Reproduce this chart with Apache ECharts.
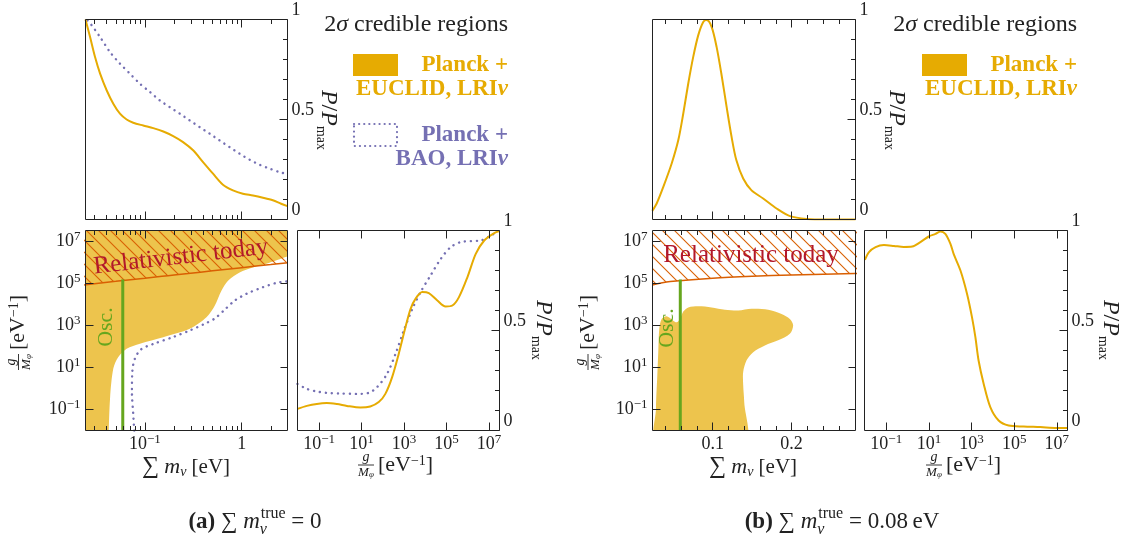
<!DOCTYPE html>
<html lang="en">
<head>
<meta charset="UTF-8">
<title>LRI nu credible regions</title>
<style>
  html, body { margin: 0; padding: 0; background: #ffffff; }
  #chart { width: 1128px; height: 552px; }
</style>
</head>
<body>
<div id="chart"></div>
<script src="https://cdn.jsdelivr.net/npm/echarts@6.0.0/dist/echarts.min.js"></script>
<script>
// values
// masses in eV, couplings as log10(g/M_phi / eV^-1), posteriors as P/P_max

// ---- panel (a): sum m_nu^true = 0 ----
var aTopMass = [0.0243, 0.0271, 0.0305, 0.0344, 0.0403, 0.0471, 0.0552, 0.0647, 0.0757, 0.0959, 0.122, 0.155, 0.196, 0.248, 0.315, 0.399, 0.506, 0.641, 0.813, 1.03, 1.31, 1.66, 2.10, 2.56, 2.98];
var aTopEuclid = [1.0, 0.912, 0.812, 0.729, 0.645, 0.579, 0.529, 0.5, 0.484, 0.47, 0.457, 0.44, 0.417, 0.387, 0.346, 0.287, 0.229, 0.174, 0.146, 0.129, 0.12, 0.109, 0.096, 0.079, 0.067];
var aTopBaoMass = [0.0255, 0.0271, 0.0344, 0.0436, 0.0552, 0.070, 0.0887, 0.113, 0.143, 0.181, 0.230, 0.291, 0.369, 0.468, 0.593, 0.752, 0.953, 1.21, 1.53, 1.95, 2.47, 2.98];
var aTopBao = [0.995, 0.982, 0.912, 0.837, 0.779, 0.729, 0.679, 0.637, 0.595, 0.562, 0.529, 0.495, 0.462, 0.429, 0.395, 0.362, 0.329, 0.299, 0.274, 0.254, 0.237, 0.227];

var aSideG = [-2.02, -1.58, -1.11, -0.64, -0.16, 0.31, 0.94, 1.41, 1.81, 2.12, 2.44, 2.75, 3.07, 3.31, 3.54, 3.86, 4.17, 4.57, 4.96, 5.28, 5.59, 5.99, 6.38, 6.78, 7.25, 7.5];
var aSideEuclid = [0.108, 0.123, 0.133, 0.137, 0.132, 0.123, 0.115, 0.12, 0.142, 0.183, 0.267, 0.383, 0.517, 0.608, 0.658, 0.692, 0.687, 0.65, 0.62, 0.625, 0.667, 0.767, 0.883, 0.95, 0.987, 0.997];
var aSideBaoG = [-2.02, -1.58, -1.11, -0.64, -0.01, 0.78, 1.33, 1.73, 2.20, 2.60, 2.99, 3.39, 3.78, 4.25, 4.73, 5.20, 5.67, 6.15, 6.62, 7.09, 7.45];
var aSideBao = [0.233, 0.208, 0.195, 0.188, 0.185, 0.183, 0.188, 0.217, 0.283, 0.383, 0.5, 0.608, 0.692, 0.775, 0.858, 0.917, 0.942, 0.947, 0.95, 0.975, 0.995];

// lower-right edge of the EUCLID region (region fills everything above/left of it)
var aRegionMass = [0.0419, 0.0436, 0.0471, 0.0531, 0.0647, 0.0888, 0.1545, 0.291, 0.433, 0.527, 0.618, 0.723, 0.953, 1.306, 1.94, 2.47, 2.98];
var aRegionG = [-2.6, -0.48, 0.93, 1.48, 1.87, 2.11, 2.42, 2.82, 3.37, 3.92, 4.63, 5.11, 5.50, 5.74, 5.97, 6.13, 6.26];
var aBaoEdgeMass = [0.0789, 0.0757, 0.0734, 0.0743, 0.0789, 0.091, 0.122, 0.196, 0.291, 0.416, 0.527, 0.668, 0.847, 1.127, 1.64, 2.30, 2.98];
var aBaoEdgeG = [-2.6, -1.24, -0.2, 0.85, 1.41, 1.84, 2.10, 2.43, 2.74, 3.06, 3.31, 3.73, 4.16, 4.49, 4.79, 5.01, 5.08];

// ---- panel (b): sum m_nu^true = 0.08 eV ----
var bTopMass = [0.0235, 0.0291, 0.0375, 0.0481, 0.0565, 0.0628, 0.0691, 0.0754, 0.0818, 0.0881, 0.0924, 0.0987, 0.105, 0.111, 0.1177, 0.124, 0.130, 0.1387, 0.149, 0.164, 0.181, 0.198, 0.219, 0.244, 0.281];
var bTopEuclid = [0.043, 0.08, 0.163, 0.28, 0.397, 0.53, 0.68, 0.813, 0.922, 0.988, 0.997, 0.963, 0.863, 0.73, 0.563, 0.413, 0.297, 0.205, 0.147, 0.105, 0.055, 0.017, 0.003, 0.0, 0.0];

var bSideG = [-2.0, -1.81, -1.50, -1.11, -0.64, -0.18, 0.22, 0.60, 0.99, 1.31, 1.54, 1.77, 2.01, 2.16, 2.48, 2.79, 3.02, 3.18, 3.33, 3.57, 3.88, 4.27, 4.74, 5.44, 6.22, 7.0, 7.5];
var bSideEuclid = [0.853, 0.892, 0.917, 0.927, 0.923, 0.918, 0.92, 0.942, 0.97, 0.983, 0.995, 0.983, 0.933, 0.883, 0.8, 0.683, 0.567, 0.467, 0.35, 0.233, 0.117, 0.05, 0.025, 0.02, 0.017, 0.013, 0.013];

// closed outline of the EUCLID region
var bRegionMass = [0.0291, 0.0282, 0.0299, 0.0311, 0.0324, 0.0354, 0.0418, 0.0501, 0.0544, 0.0586, 0.0628, 0.0691, 0.0818, 0.0987, 0.1156, 0.1324, 0.1494, 0.1704, 0.1873, 0.1978, 0.2020, 0.1978, 0.183, 0.1662, 0.1514, 0.143, 0.1387, 0.1387, 0.140, 0.1409];
var bRegionG = [-2.6, -0.97, 0.61, 1.71, 2.82, 3.29, 3.42, 3.21, 3.13, 3.29, 3.64, 3.84, 3.89, 3.84, 3.73, 3.69, 3.77, 3.73, 3.53, 3.29, 2.98, 2.58, 2.27, 2.03, 1.71, 1.32, 0.77, 0.14, -0.65, -2.6];

// ---- shared ----
// "relativistic today" boundary
var relMass = [0.0235, 0.03, 0.05, 0.1, 0.15, 0.2, 0.28, 0.5, 1, 2, 3];
var relG = [4.91, 4.97, 5.08, 5.23, 5.32, 5.38, 5.45, 5.58, 5.73, 5.88, 5.97];
// oscillation lower bound
var oscMass = 0.059;
var oscTopG = 5.17;

// axes
var aMassRange = [0.0243, 2.98];
var bMassRange = [0.0238, 0.281];
var gRange = [-2.02, 7.5];
var aMassMajor = [0.1, 1];
var aMassMinor = [0.03, 0.04, 0.05, 0.06, 0.07, 0.08, 0.09, 0.2, 0.3, 0.4, 0.5, 0.6, 0.7, 0.8, 0.9, 2];
var bMassMajor = [0.1, 0.2];
var bMassMinor = [0.04, 0.06, 0.08, 0.12, 0.14, 0.16, 0.18, 0.22, 0.24, 0.26];
var gMajor = [-1, 1, 3, 5, 7];
var pMajor = [0, 0.5, 1];
var pMinor = [0.1, 0.2, 0.3, 0.4, 0.6, 0.7, 0.8, 0.9];

var FONT = 'Liberation Serif';
var INK = '#222222';
var ORANGE = '#e6ab02', PURPLE = '#7570b3', GREEN = '#66a61e', HATCH = '#d95f02', RED = '#b2182b';
var FILL = 'rgba(230,171,2,0.7)';

function lg(v) { return Math.log10(v); }
function lin(v) { return v; }
function zip(xs, ys, fx) { return xs.map(function (x, i) { return [fx(x), ys[i]]; }); }

// hatch tile, "\" lines
function hatchTile() {
  var s = 12, c = document.createElement('canvas');
  c.width = s; c.height = s;
  var ctx = c.getContext('2d');
  ctx.strokeStyle = HATCH;
  ctx.lineWidth = 1.1;
  [-s, 0, s].forEach(function (o) {
    ctx.beginPath(); ctx.moveTo(o - 2, -2); ctx.lineTo(o + s + 2, s + 2); ctx.stroke();
  });
  return c;
}
var hatch = { image: hatchTile(), repeat: 'repeat' };

// ---- grids & axes ----
var boxes = {
  aTop: [85.5, 19.5, 202, 200], aMain: [85.5, 230.5, 202, 200], aSide: [297.5, 230.5, 202, 200],
  bTop: [652.5, 19.5, 203, 200], bMain: [652.5, 230.5, 203, 200], bSide: [864.5, 230.5, 203, 200]
};
var grids = [], xAxes = [], yAxes = [];
function grid(b) {
  grids.push({ left: b[0], top: b[1], width: b[2], height: b[3], containLabel: false, outerBoundsMode: 'none' });
  return grids.length - 1;
}
function axis(list, gi, pos, range, ticks, len, label) {
  list.push({
    type: 'value', gridIndex: gi, position: pos, min: range[0], max: range[1], z: 10,
    axisLine: { show: false, onZero: false },
    splitLine: { show: false },
    axisTick: { show: ticks.length > 0, inside: true, length: len, customValues: ticks, lineStyle: { color: INK, width: 1 } },
    axisLabel: label || { show: false }
  });
  return list.length - 1;
}
var supRich = { sup: { fontFamily: FONT, fontSize: 13, lineHeight: 10, verticalAlign: 'top', color: INK } };
function expText(v) {
  var e = Math.round(v);
  return e === 0 ? '1' : '10{sup|' + (e < 0 ? '\u2212' + (-e) : e) + '}';
}
function tickLabel(values, fmt, extra) {
  return Object.assign({ show: true, customValues: values, formatter: fmt, fontFamily: FONT, fontSize: 18,
    color: INK, lineHeight: 22, rich: supRich }, extra);
}
var pLabel = { show: true, customValues: pMajor, formatter: function (v) { return v === 0.5 ? '0.5' : String(v); },
  fontFamily: FONT, fontSize: 18, color: INK, lineHeight: 18, verticalAlign: 'bottom', margin: 4 };

function massAxes(gi, range, fx, major, minor, label) {
  var r = [fx(range[0]), fx(range[1])];
  var M = major.map(fx), m = minor.map(fx);
  var main = axis(xAxes, gi, 'bottom', r, M, 8, label ? tickLabel(M, label, { margin: 3 }) : null);
  axis(xAxes, gi, 'bottom', r, m, 4.5);
  axis(xAxes, gi, 'top', r, M, 8);
  axis(xAxes, gi, 'top', r, m, 4.5);
  return main;
}
function pAxes(gi) {
  var main = axis(yAxes, gi, 'right', [0, 1], pMajor, 8, pLabel);
  axis(yAxes, gi, 'right', [0, 1], pMinor, 4.5);
  return main;
}
function gAxesY(gi) {
  var main = axis(yAxes, gi, 'left', gRange, gMajor, 8, tickLabel(gMajor, expText, { margin: 5 }));
  axis(yAxes, gi, 'right', gRange, gMajor, 7);
  return main;
}
function gAxesX(gi) {
  var main = axis(xAxes, gi, 'bottom', gRange, gMajor, 8, tickLabel(gMajor, expText, { margin: 3 }));
  axis(xAxes, gi, 'top', gRange, gMajor, 8);
  return main;
}

var G = {};
G.aTop = grid(boxes.aTop); G.aMain = grid(boxes.aMain); G.aSide = grid(boxes.aSide);
G.bTop = grid(boxes.bTop); G.bMain = grid(boxes.bMain); G.bSide = grid(boxes.bSide);

var ax = {
  aTop: [massAxes(G.aTop, aMassRange, lg, aMassMajor, aMassMinor, null), pAxes(G.aTop)],
  aMain: [massAxes(G.aMain, aMassRange, lg, aMassMajor, aMassMinor, expText), gAxesY(G.aMain)],
  aSide: [gAxesX(G.aSide), pAxes(G.aSide)],
  bTop: [massAxes(G.bTop, bMassRange, lin, bMassMajor, bMassMinor, null), pAxes(G.bTop)],
  bMain: [massAxes(G.bMain, bMassRange, lin, bMassMajor, bMassMinor, function (v) { return v.toFixed(1); }), gAxesY(G.bMain)],
  bSide: [gAxesX(G.bSide), pAxes(G.bSide)]
};

// ---- series ----
function curve(a, pts, color, dotted) {
  return {
    type: 'line', xAxisIndex: a[0], yAxisIndex: a[1], data: pts, showSymbol: false, symbol: 'none',
    smooth: 0.3, silent: true, clip: true, z: 3,
    lineStyle: dotted ? { color: color, width: 2.4, type: [0.1, 5.9], cap: 'round' } : { color: color, width: 2 }
  };
}
function region(a, pts) {
  return {
    type: 'custom', xAxisIndex: a[0], yAxisIndex: a[1], clip: true, silent: true, z: 1,
    data: [pts[0]],
    renderItem: function (params, api) {
      return { type: 'polygon', shape: { points: pts.map(function (p) { return api.coord(p); }), smooth: 0.3 },
        style: { fill: FILL } };
    }
  };
}
function relativistic(a, fx) {
  return {
    type: 'line', xAxisIndex: a[0], yAxisIndex: a[1], data: zip(relMass, relG, fx), showSymbol: false,
    symbol: 'none', smooth: 0.3, silent: true, clip: true, z: 4,
    lineStyle: { color: HATCH, width: 1.5 },
    areaStyle: { origin: 'end', color: hatch, opacity: 1 }
  };
}
function osc(a, fx) {
  return {
    type: 'line', xAxisIndex: a[0], yAxisIndex: a[1], data: [[fx(oscMass), gRange[0]], [fx(oscMass), oscTopG]],
    showSymbol: false, symbol: 'none', silent: true, z: 5, lineStyle: { color: GREEN, width: 3 }
  };
}

var aLo = lg(aMassRange[0]) - 0.3, aHi = lg(aMassRange[1]) + 0.3, gTopOut = gRange[1] + 1, gBotOut = gRange[0] - 1;
var aRegionPts = [[aLo, gTopOut], [aLo, gBotOut], [lg(aRegionMass[0]), gBotOut]]
  .concat(zip(aRegionMass, aRegionG, lg))
  .concat([[aHi, aRegionG[aRegionG.length - 1]], [aHi, gTopOut]]);
var bRegionPts = zip(bRegionMass, bRegionG, lin);

var series = [
  curve(ax.aTop, zip(aTopBaoMass, aTopBao, lg), PURPLE, true),
  curve(ax.aTop, zip(aTopMass, aTopEuclid, lg), ORANGE, false),
  region(ax.aMain, aRegionPts),
  curve(ax.aMain, zip(aBaoEdgeMass, aBaoEdgeG, lg), PURPLE, true),
  relativistic(ax.aMain, lg),
  osc(ax.aMain, lg),
  curve(ax.aSide, zip(aSideBaoG, aSideBao, lin), PURPLE, true),
  curve(ax.aSide, zip(aSideG, aSideEuclid, lin), ORANGE, false),
  curve(ax.bTop, zip(bTopMass, bTopEuclid, lin), ORANGE, false),
  region(ax.bMain, bRegionPts),
  relativistic(ax.bMain, lin),
  osc(ax.bMain, lin),
  curve(ax.bSide, zip(bSideG, bSideEuclid, lin), ORANGE, false)
];

// ---- text & frames ----
var mctx = document.createElement('canvas').getContext('2d');
function tw(t, f) { mctx.font = f; return mctx.measureText(t).width; }
function txt(t, x, y, f, fill, align, va) {
  return { type: 'text', style: { text: t, x: x, y: y, font: f, fill: fill || INK,
    align: align || 'left', textAlign: align || 'left', verticalAlign: va || 'middle', textVerticalAlign: va || 'middle' } };
}
function richTxt(t, x, y, f, fill, align, rich, rot) {
  var el = txt(t, 0, 0, f, fill, align);
  el.style.rich = rich;
  return { type: 'group', x: x, y: y, rotation: rot || 0, children: [el] };
}
function frame(b) {
  return { type: 'rect', shape: { x: b[0], y: b[1], width: b[2], height: b[3] }, style: { fill: null, stroke: INK, lineWidth: 1 }, z: 100 };
}
function pLabelTitle(x, y) {
  return richTxt('{i|P}{r|/}{i|P}{s|max}', x, y, '24px ' + FONT, INK, 'center', {
    i: { fontFamily: FONT, fontStyle: 'italic', fontSize: 24, lineHeight: 28, fill: INK },
    r: { fontFamily: FONT, fontSize: 24, lineHeight: 28, fill: INK },
    s: { fontFamily: FONT, fontSize: 14, lineHeight: 12, verticalAlign: 'bottom', fill: INK }
  }, -Math.PI / 2);
}
function massTitle(x, y) {
  return richTxt('{s|\u2211} {i|m}{b|\u03bd} [eV]', x, y, '21px ' + FONT, INK, 'center', {
    s: { fontFamily: FONT, fontSize: 24, fill: INK },
    i: { fontFamily: FONT, fontStyle: 'italic', fontSize: 22, lineHeight: 24, fill: INK },
    b: { fontFamily: FONT, fontStyle: 'italic', fontSize: 14, lineHeight: 12, verticalAlign: 'bottom', fill: INK }
  });
}
function couplingTitle(x, y, rot) {
  var eV = txt('[eV{sup|\u2212' + '1}]', 12, 0, '22px ' + FONT, INK, 'left');
  eV.style.rich = { sup: { fontFamily: FONT, fontSize: 14, lineHeight: 10, verticalAlign: 'top', fill: INK } };
  var M = txt('{i|M}{s|\u03c6}', 0, 1.5, '13px ' + FONT, INK, 'center', 'top');
  M.style.rich = { i: { fontFamily: FONT, fontStyle: 'italic', fontSize: 13, fill: INK },
    s: { fontFamily: FONT, fontStyle: 'italic', fontSize: 9, verticalAlign: 'bottom', lineHeight: 8, fill: INK } };
  return { type: 'group', x: x, y: y, rotation: rot, children: [
    txt('g', 0, -0.5, 'italic 14px ' + FONT, INK, 'center', 'bottom'),
    { type: 'line', shape: { x1: -8, y1: 0, x2: 8, y2: 0 }, style: { stroke: INK, lineWidth: 0.9 } },
    M, eV
  ] };
}
function caption(cx, cy, tag, rhs) {
  var size = 23;
  var supF = '16px ' + FONT, subF = 'italic 16px ' + FONT;
  var runs = [
    { t: '(' + tag + ')', f: 'bold ' + size + 'px ' + FONT },
    { t: ' \u2211 ', f: size + 'px ' + FONT },
    { t: 'm', f: 'italic ' + size + 'px ' + FONT },
    { stack: true },
    { t: ' = ' + rhs, f: size + 'px ' + FONT }
  ];
  var total = 0;
  runs.forEach(function (r) {
    r.w = r.stack ? Math.max(tw('true', supF), tw('\u03bd', subF)) + 1 : tw(r.t, r.f);
    total += r.w;
  });
  var x = -total / 2, kids = [];
  runs.forEach(function (r) {
    if (r.stack) {
      kids.push(txt('true', x + 1, -8, supF));
      kids.push(txt('\u03bd', x, 8, subF));
    } else {
      kids.push(txt(r.t, x, 0, r.f));
    }
    x += r.w;
  });
  return { type: 'group', x: cx, y: cy, children: kids };
}
var nuRich = { n: { fontFamily: FONT, fontStyle: 'italic', fontWeight: 'bold', fontSize: 23 } };
function legendBlock(right, top, withBao) {
  var els = [];
  var title = txt('2{i|\u03c3} credible regions', right, top + 6, '24px ' + FONT, INK, 'right');
  title.style.rich = { i: { fontFamily: FONT, fontStyle: 'italic', fontSize: 24, fill: INK } };
  els.push(title);
  var bf = 'bold 23px ' + FONT;
  els.push({ type: 'rect', shape: { x: right - 155, y: top + 35, width: 45, height: 22 }, style: { fill: ORANGE } });
  els.push(txt('Planck +', right, top + 46, bf, ORANGE, 'right'));
  var e = txt('EUCLID, LRI{n|\u03bd}', right, top + 70, bf, ORANGE, 'right');
  e.style.rich = { n: Object.assign({ fill: ORANGE }, nuRich.n) };
  els.push(e);
  if (withBao) {
    els.push({ type: 'rect', shape: { x: right - 154, y: top + 105, width: 43, height: 22 },
      style: { fill: null, stroke: PURPLE, lineWidth: 2.2, lineDash: [0.1, 5], lineCap: 'round' } });
    els.push(txt('Planck +', right, top + 116, bf, PURPLE, 'right'));
    var b = txt('BAO, LRI{n|\u03bd}', right, top + 140, bf, PURPLE, 'right');
    b.style.rich = { n: Object.assign({ fill: PURPLE }, nuRich.n) };
    els.push(b);
  }
  return els;
}

var graphics = [];
Object.keys(boxes).forEach(function (k) { graphics.push(frame(boxes[k])); });
graphics = graphics.concat(legendBlock(508, 19, true), legendBlock(1077, 19, false));
graphics.push(
  pLabelTitle(328, 120), pLabelTitle(543, 330), pLabelTitle(896, 120), pLabelTitle(1110, 330),
  massTitle(186, 467), massTitle(753, 467),
  couplingTitle(366, 465, 0), couplingTitle(934, 465, 0),
  couplingTitle(18.5, 362, Math.PI / 2), couplingTitle(588, 362, Math.PI / 2),
  richTxt('Relativistic today', 181, 257, '25px ' + FONT, RED, 'center', {}, 0.115),
  richTxt('Relativistic today', 751, 255, '25px ' + FONT, RED, 'center', {}, 0),
  richTxt('Osc.', 106.5, 327, '22px ' + FONT, GREEN, 'center', {}, Math.PI / 2),
  richTxt('Osc.', 667, 328, '22px ' + FONT, GREEN, 'center', {}, Math.PI / 2),
  caption(255, 522, 'a', '0'),
  caption(842, 522, 'b', '0.08\u2009eV')
);
// keep every annotation above the series
function lift(el, z) {
  el.silent = true;
  if (el.z == null) el.z = z;
  if (el.children) el.children.forEach(function (c) { lift(c, el.z); });
}
graphics.forEach(function (g) { lift(g, 50); });

var chart = echarts.init(document.getElementById('chart'), null, { renderer: 'canvas' });
chart.setOption({
  animation: false,
  backgroundColor: '#ffffff',
  textStyle: { fontFamily: FONT },
  grid: grids,
  xAxis: xAxes,
  yAxis: yAxes,
  series: series,
  graphic: { elements: graphics }
});
</script>
</body>
</html>
